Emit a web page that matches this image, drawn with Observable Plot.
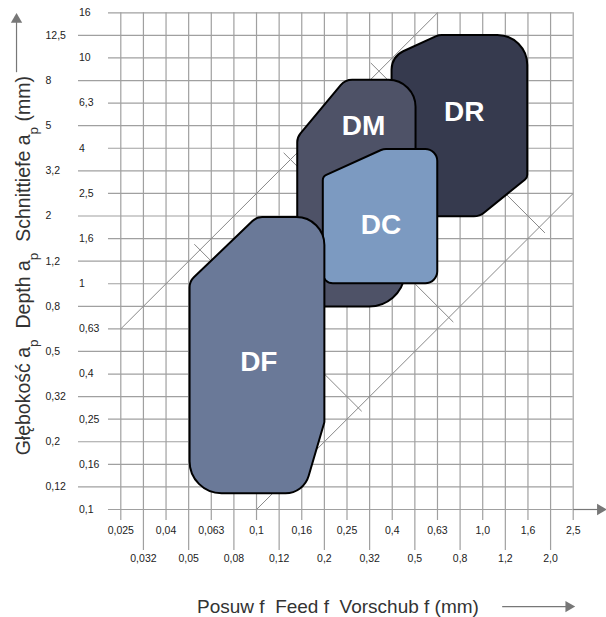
<!DOCTYPE html>
<html><head><meta charset="utf-8">
<script src="https://cdn.jsdelivr.net/npm/d3@7"></script>
<script src="https://cdn.jsdelivr.net/npm/@observablehq/plot@0.6"></script>
<style>body{margin:0;background:#fff;} svg{display:block}</style>
</head><body><div id="chart"></div>
<script>
// Tick labels (each grid step is one R10 step)
const feedLabels = ["0,025","0,032","0,04","0,05","0,063","0,08","0,1","0,12","0,16","0,2","0,25","0,32","0,4","0,5","0,63","0,8","1,0","1,2","1,6","2,0","2,5"];
const depthLabels = ["0,1","0,12","0,16","0,2","0,25","0,32","0,4","0,5","0,63","0,8","1","1,2","1,6","2","2,5","3,2","4","5","6,3","8","10","12,5","16"];

// Application areas, vertices in grid-step units [feed step, depth step]
const DF = [[3.04,10.1],[6.0,12.95],[9.0,12.95],[9.0,3.87],[8.08,0.72],[3.04,0.72]];
const DM = [[7.8,16.49],[9.92,19.03],[13.03,19.03],[13.03,13.7],[12.36,8.99],[7.8,8.99]];
const DC = [[8.93,14.75],[11.61,15.97],[13.99,15.97],[13.99,10.02],[8.93,10.02]];
const DR = [[11.97,20.06],[14.05,21.02],[17.97,21.02],[17.97,14.7],[15.86,12.99],[11.97,12.99]];
const areaNames = ["DR","DM","DC","DF"];
const areaLabelPos = [[15.18,17.6],[10.73,16.97],[11.5,12.58],[6.1,6.52]];

// Guide lines (grid-step units)
const diagonals = [[0,8,14,22],[6,0,20,14]];
const guideTicks = [[17.0,14.0,18.75,12.25],[13,10,14.7,8.3],[9,6,10.65,4.35],[4.0,11.0,3.25,11.75],[7.8,15.2,7.2,15.8],[11.8,19.03,11.05,19.78]];

const xTitle = "Posuw f  Feed f  Vorschub f (mm)";
const yTitle = "Głębokość ap  Depth ap  Schnittiefe ap (mm)";

const colors = {DR:"#363a4e", DM:"#4e5267", DC:"#7c9ac1", DF:"#6a7998"};
const radii = {
  DF:[14,14,28,4,24,32],
  DM:[14,15,27,0,36,10],
  DC:[6,12,12,12,10],
  DR:[20,15,30,6,16,10]
};
const shapes = {DF, DM, DC, DR};

function rounded(rs) {
  return function(context) {
    let pts = [];
    return {
      areaStart(){}, areaEnd(){},
      lineStart(){ pts = []; },
      point(x, y){ pts.push([+x, +y]); },
      lineEnd(){
        const n = pts.length;
        const a = pts[n-1], b = pts[0];
        context.moveTo((a[0]+b[0])/2, (a[1]+b[1])/2);
        for (let i = 0; i < n; i++) {
          const p = pts[i], q = pts[(i+1)%n];
          if (rs[i] > 0) context.arcTo(p[0], p[1], q[0], q[1], rs[i]);
          else context.lineTo(p[0], p[1]);
        }
        context.closePath();
      }
    };
  };
}

const fi = d3.range(feedLabels.length);
const di = d3.range(depthLabels.length);
const grid = "#a0a0a0";
const arrowCol = "#777";

const marks = [
  Plot.ruleY(di, {y: d => d, x1: d => d % 2 === 0 ? -0.544 : -1.87, x2: 20, stroke: grid, strokeWidth: 1.2}),
  Plot.ruleX(fi, {x: d => d, y1: d => d % 2 === 0 ? -0.49 : -1.82, y2: 22, stroke: grid, strokeWidth: 1.2}),
  Plot.link([[20, 0, 21.2, 0]], {x1: d=>d[0], y1: d=>d[1], x2: d=>d[2], y2: d=>d[3], stroke: arrowCol, strokeWidth: 1.2}),
  Plot.dot([[21.2, 0]], {x: d=>d[0], y: d=>d[1], symbol: "triangle", r: 4.2, rotate: 90, fill: arrowCol, stroke: "none"}),
  Plot.link(diagonals, {x1: d=>d[0], y1: d=>d[1], x2: d=>d[2], y2: d=>d[3], stroke: "#888", strokeWidth: 1}),
  Plot.link(guideTicks, {x1: d=>d[0], y1: d=>d[1], x2: d=>d[2], y2: d=>d[3], stroke: "#888", strokeWidth: 1}),
  ...areaNames.map(k => Plot.line(shapes[k], {x: d=>d[0], y: d=>d[1], curve: rounded(radii[k]), fill: colors[k], stroke: "#000", strokeWidth: 2})),
  Plot.text(areaNames, {x: (d,i) => areaLabelPos[i][0], y: (d,i) => areaLabelPos[i][1], text: d => d, fill: "white", fontSize: 28, fontWeight: "bold", fontFamily: "Liberation Sans, Arial, sans-serif"}),
  Plot.text(fi, {x: d => d, y: d => d % 2 === 0 ? -0.95 : -2.18, text: d => feedLabels[d], fontSize: 10.5, fill: "#222"}),
  Plot.text(di, {x: d => d % 2 === 0 ? -1.85 : -3.33, y: d => d, text: d => depthLabels[d], textAnchor: "start", fontSize: 10.5, fill: "#222"}),
  Plot.text([xTitle], {x: 9.6, y: -4.3, text: d => d, fontSize: 19, fill: "#333"}),
  Plot.link([[16.86, -4.3, 19.8, -4.3]], {x1: d=>d[0], y1: d=>d[1], x2: d=>d[2], y2: d=>d[3], stroke: arrowCol, strokeWidth: 1.2}),
  Plot.dot([[19.8, -4.3]], {x: d=>d[0], y: d=>d[1], symbol: "triangle", r: 4.2, rotate: 90, fill: arrowCol, stroke: "none"}),
  Plot.text([yTitle], {x: -4.3, y: 10.8, text: d => d, rotate: -90, fontSize: 19.5, fill: "#333"}),
  Plot.link([[-4.61, 19.37, -4.61, 21.7]], {x1: d=>d[0], y1: d=>d[1], x2: d=>d[2], y2: d=>d[3], stroke: arrowCol, strokeWidth: 1.2}),
  Plot.dot([[-4.61, 21.7]], {x: d=>d[0], y: d=>d[1], symbol: "triangle", r: 4.2, fill: arrowCol, stroke: "none"})
];

const chart = Plot.plot({
  width: 606, height: 617,
  marginLeft: 0, marginRight: 0, marginTop: 0, marginBottom: 0,
  style: {background: "white", fontFamily: "Liberation Sans, Arial, sans-serif"},
  x: {type: "linear", domain: [0, 20], range: [120.3, 572.7], axis: null},
  y: {type: "linear", domain: [0, 22], range: [509, 12.3], axis: null},
  marks
});

// subscripts in the y-axis title
chart.querySelectorAll("text").forEach(t => {
  if (t.textContent.startsWith("Głębokość")) {
    const s = d3.select(t); s.text(null);
    const parts = ["Głębokość a", "p", "\u00a0 Depth a", "p", "\u00a0 Schnittiefe a", "p", " (mm)"];
    parts.forEach((p, i) => {
      const ts = s.append("tspan").text(p);
      if (i % 2 === 1) ts.attr("baseline-shift", "sub").attr("font-size", "70%");
    });
  }
});
document.getElementById("chart").appendChild(chart);
</script>
</body></html>
